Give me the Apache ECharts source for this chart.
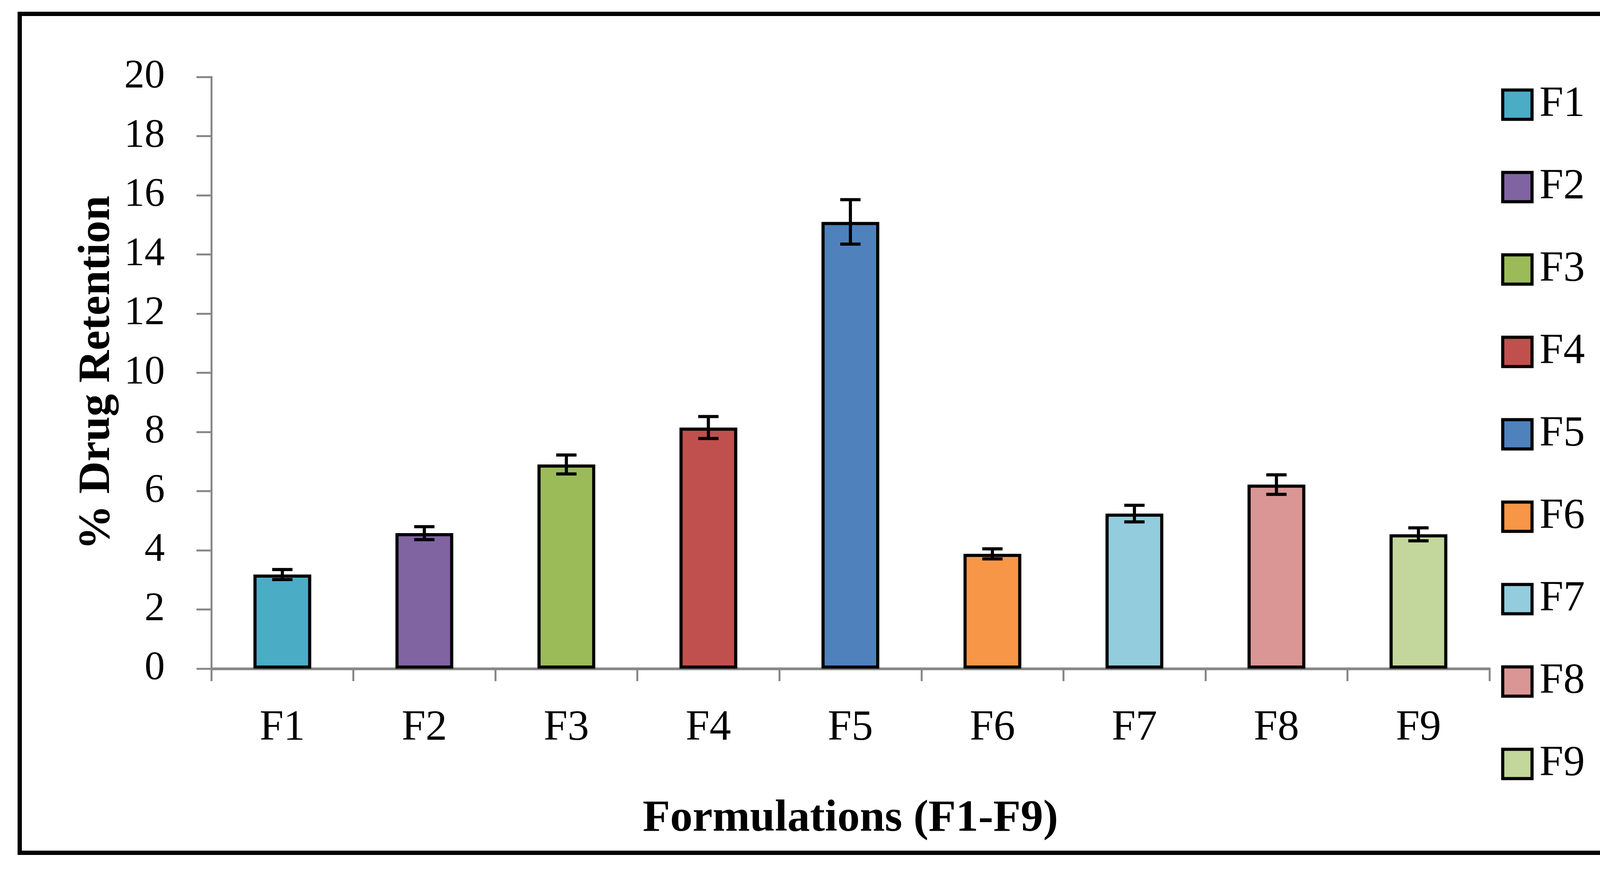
<!DOCTYPE html>
<html>
<head>
<meta charset="utf-8">
<script src="https://cdn.jsdelivr.net/npm/echarts@6/dist/echarts.min.js"></script>
<style>
html,body{margin:0;padding:0;background:#fff;overflow:hidden;}
#chart{width:4222px;height:2225px;}
</style>
</head>
<body>
<div id="chart"></div>
<script>
var categories = ['F1','F2','F3','F4','F5','F6','F7','F8','F9'];
var means = [3.18, 4.58, 6.90, 8.15, 15.10, 3.88, 5.24, 6.22, 4.54];
var errors = [0.17, 0.22, 0.32, 0.37, 0.75, 0.17, 0.28, 0.33, 0.22];
var colors = ['#4BACC6','#8064A2','#9BBB59','#C0504D','#4F81BD','#F79646','#93CDDD','#D99694','#C3D69B'];
var yTicks = [0, 20, 2];

var FONT = 'Liberation Serif';
var chart = echarts.init(document.getElementById('chart'));

var series = categories.map(function (name, i) {
  return {
    name: name,
    type: 'bar',
    barWidth: 148,
    barGap: '-100%',
    data: categories.map(function (c, j) { return j === i ? means[j] : null; }),
    itemStyle: { color: colors[i], borderColor: '#000', borderWidth: 8 },
    z: 2
  };
});

series.push({
  name: 'error',
  type: 'custom',
  z: 5,
  data: means.map(function (m, i) { return [i, m - errors[i], m + errors[i]]; }),
  renderItem: function (params, api) {
    var x = api.value(0);
    var lo = api.coord([x, api.value(1)]);
    var hi = api.coord([x, api.value(2)]);
    var hw = 26;
    var st = { stroke: '#000', lineWidth: 8 };
    return {
      type: 'group',
      children: [
        { type: 'line', shape: { x1: lo[0], y1: lo[1], x2: hi[0], y2: hi[1] }, style: st },
        { type: 'line', shape: { x1: lo[0] - hw, y1: lo[1], x2: lo[0] + hw, y2: lo[1] }, style: st },
        { type: 'line', shape: { x1: hi[0] - hw, y1: hi[1], x2: hi[0] + hw, y2: hi[1] }, style: st }
      ]
    };
  },
  encode: { x: 0, y: [1, 2] },
  silent: true
});

var option = {
  animation: false,
  backgroundColor: '#fff',
  textStyle: { fontFamily: FONT },
  grid: { left: 541, right: 409, top: 197, bottom: 513, containLabel: false },
  legend: {
    orient: 'vertical',
    left: 3838,
    top: 208,
    itemWidth: 75,
    itemHeight: 75,
    itemGap: 101,
    icon: 'rect',
    data: categories,
    itemStyle: { borderColor: '#000', borderWidth: 8 },
    textStyle: { fontFamily: FONT, fontSize: 110, color: '#000', padding: [0, 0, 0, 14] }
  },
  xAxis: {
    type: 'category',
    data: categories,
    name: 'Formulations (F1-F9)',
    nameLocation: 'middle',
    nameGap: 328,
    nameTextStyle: { fontFamily: FONT, fontSize: 115, fontWeight: 'bold', color: '#000' },
    axisLine: { show: true, lineStyle: { color: '#888', width: 7 } },
    axisTick: { show: true, interval: 0, length: 32, lineStyle: { color: '#888', width: 5 } },
    axisLabel: { fontFamily: FONT, fontSize: 110, color: '#000', margin: 98, interval: 0 }
  },
  yAxis: {
    type: 'value',
    min: yTicks[0],
    max: yTicks[1],
    interval: yTicks[2],
    name: '% Drug Retention',
    nameLocation: 'middle',
    nameGap: 218,
    nameTextStyle: { fontFamily: FONT, fontSize: 115, fontWeight: 'bold', color: '#000' },
    axisLine: { show: true, lineStyle: { color: '#888', width: 5 } },
    axisTick: { show: true, length: 38, lineStyle: { color: '#888', width: 5 } },
    splitLine: { show: false },
    axisLabel: { fontFamily: FONT, fontSize: 104, color: '#000', margin: 119 }
  },
  graphic: [{
    type: 'rect',
    shape: { x: 50.5, y: 35.5, width: 4123, height: 2148 },
    style: { fill: 'none', stroke: '#000', lineWidth: 11 },
    silent: true,
    z: 10
  }],
  series: series
};
chart.setOption(option);
</script>
</body>
</html>
